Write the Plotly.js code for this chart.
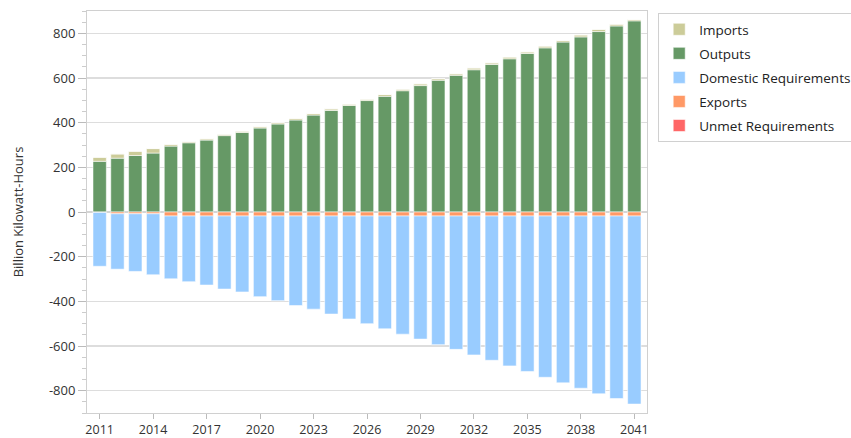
<!DOCTYPE html>
<html>
<head>
<meta charset="utf-8">
<script src="https://cdn.plot.ly/plotly-3.0.1.min.js"></script>
<style>
  html, body { margin: 0; padding: 0; background: #ffffff; }
  #chart { width: 851px; height: 438px; }
</style>
</head>
<body>
<div id="chart"></div>
<script>
const years = [2011,2012,2013,2014,2015,2016,2017,2018,2019,2020,2021,2022,2023,2024,2025,2026,2027,2028,2029,2030,2031,2032,2033,2034,2035,2036,2037,2038,2039,2040,2041];
const outputs = [227,241,253,264,295,310,322,342,356,376,394,412,434,455,477,499,518,543,566,590,612,637,661,686,710,735,761,784,808,833,856];
const imports = [18,19,19,20,8,5,6,6,6,6,6,7,7,7,6,6,8,7,8,7,7,8,7,8,7,8,7,9,10,8,6];
const exportsVals = [-2,-8,-8,-8,-18,-18,-18,-18,-18,-18,-18,-18,-18,-18,-18,-18,-18,-18,-18,-18,-18,-18,-18,-18,-18,-18,-18,-18,-18,-18,-18];
const domestic = [-241,-248,-258,-273,-281,-294,-309,-327,-340,-361,-379,-401,-417,-439,-461,-482,-505,-529,-551,-576,-597,-622,-646,-671,-696,-722,-747,-771,-796,-817,-842];
const unmet = [0,0,0,0,0,0,0,0,0,0,0,0,0,0,0,0,0,0,0,0,0,0,0,0,0,0,0,0,0,0,0];
const xTicks = [2011,2014,2017,2020,2023,2026,2029,2032,2035,2038,2041];
const yTicks = [-800,-600,-400,-200,0,200,400,600,800];

const edge = {width: 1, color: 'rgba(255,255,255,0.55)'};
function bar(name, y, color, rank) {
  return {type: 'bar', name: name, x: years, y: y, legendrank: rank, legendgroup: name,
          marker: {color: color, line: edge}, hoverinfo: 'x+y+name'};
}
const data = [
  bar('Outputs', outputs, '#669966', 2),
  bar('Imports', imports, '#cccc99', 1),
  bar('Exports', exportsVals, '#ff9966', 4),
  bar('Domestic Requirements', domestic, '#99ccff', 3),
  bar('Unmet Requirements', unmet, '#ff6666', 5)
];

const font = {family: '"Open Sans", "Noto Sans", sans-serif', size: 13, color: '#333333'};
const layout = {
  width: 851, height: 438,
  margin: {l: 87, r: 204, t: 11, b: 25, pad: 0, autoexpand: false},
  paper_bgcolor: '#ffffff', plot_bgcolor: '#ffffff',
  font: font,
  barmode: 'relative',
  bargap: 0.25,
  showlegend: true,
  legend: {
    x: 1.02, xanchor: 'left', y: 0.995, yanchor: 'top',
    bgcolor: '#ffffff', bordercolor: '#d0d0d0', borderwidth: 1,
    font: {family: font.family, size: 13.5, color: '#222222'},
    traceorder: 'grouped', tracegroupgap: 3.5
  },
  xaxis: {
    range: [2010.29, 2041.71],
    tickmode: 'array', tickvals: xTicks, ticktext: xTicks.map(String),
    ticks: 'outside', ticklen: 5, tickcolor: '#bbbbbb', tickwidth: 1,
    showline: true, linecolor: '#d0d0d0', linewidth: 1, mirror: true,
    showgrid: false, zeroline: false,
    tickfont: {family: font.family, size: 12.5, color: '#333333'}
  },
  yaxis: {
    range: [-900, 900],
    tickmode: 'array', tickvals: yTicks, ticktext: yTicks.map(String),
    ticks: 'outside', ticklen: 8, tickcolor: '#bbbbbb', tickwidth: 1,
    minor: {dtick: 50, tick0: 0, ticks: 'outside', ticklen: 4, tickcolor: '#cccccc', showgrid: false},
    showline: true, linecolor: '#d0d0d0', linewidth: 1, mirror: true,
    showgrid: true, gridcolor: '#dddddd', gridwidth: 1.5,
    zeroline: true, zerolinecolor: '#d5d5d5', zerolinewidth: 1.5,
    tickfont: font,
    title: {text: 'Billion Kilowatt-Hours', font: {family: font.family, size: 13, color: '#333333'}, standoff: 22}
  }
};

Plotly.newPlot('chart', data, layout, {displayModeBar: false, staticPlot: true});
</script>
</body>
</html>
